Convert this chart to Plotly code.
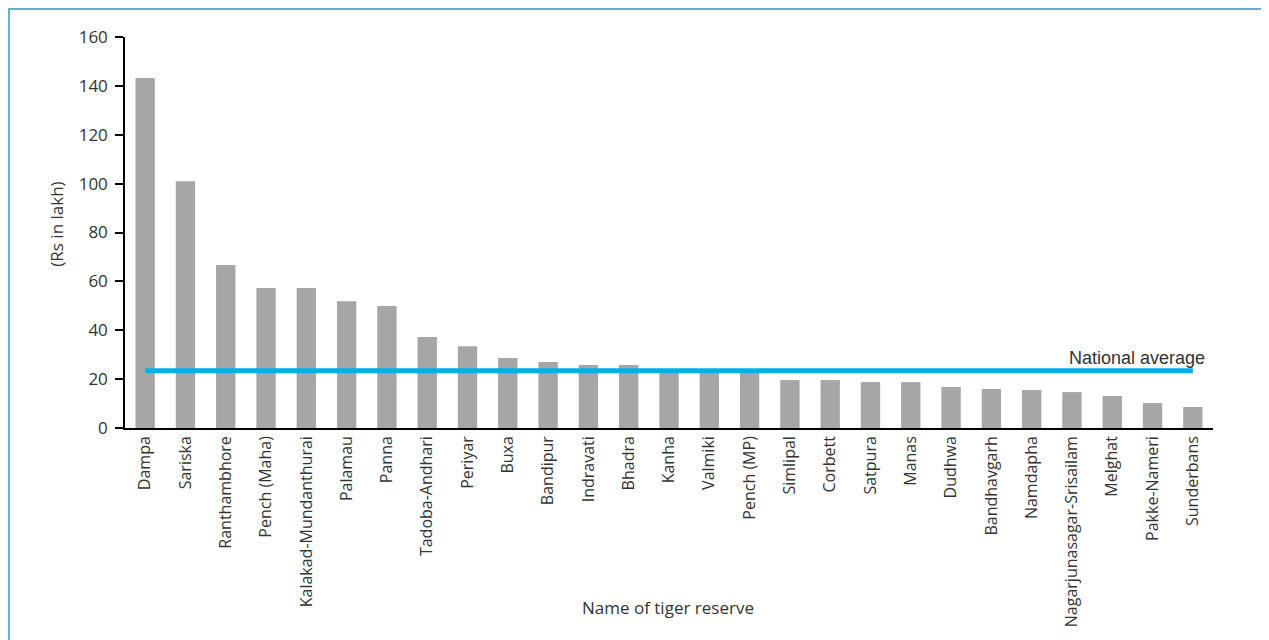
import plotly.graph_objects as go

reserves = [
    "Dampa", "Sariska", "Ranthambhore", "Pench (Maha)", "Kalakad-Mundanthurai",
    "Palamau", "Panna", "Tadoba-Andhari", "Periyar", "Buxa", "Bandipur",
    "Indravati", "Bhadra", "Kanha", "Valmiki", "Pench (MP)", "Simlipal",
    "Corbett", "Satpura", "Manas", "Dudhwa", "Bandhavgarh", "Namdapha",
    "Nagarjunasagar-Srisailam", "Melghat", "Pakke-Nameri", "Sunderbans",
]
cost_rs_lakh = [
    143.2, 101.0, 66.7, 57.3, 57.3, 51.9, 49.9, 37.2, 33.5, 28.6, 27.0,
    25.8, 25.8, 23.6, 23.4, 23.2, 19.6, 19.6, 18.8, 18.8, 16.8, 16.0,
    15.5, 14.7, 13.1, 10.2, 8.6,
]
national_average = 23.4
y_ticks = [0, 20, 40, 60, 80, 100, 120, 140, 160]

TEXT = "#333333"
BAR_GREY = "#a6a6a6"
LINE_BLUE = "#00aeef"
FRAME_BLUE = "#6aaec8"
FONT = "Open Sans, Noto Sans, sans-serif"

fig = go.Figure()
fig.add_bar(x=reserves, y=cost_rs_lakh, marker_color=BAR_GREY, marker_line_width=0, showlegend=False)
fig.add_scatter(
    x=reserves,
    y=[national_average] * len(reserves),
    mode="lines",
    line={"color": LINE_BLUE, "width": 5},
    showlegend=False,
)

fig.add_annotation(
    x=reserves[-1], y=national_average, xref="x", yref="y",
    text="National average", showarrow=False,
    xanchor="right", yanchor="bottom", xshift=14, yshift=1,
    font={"family": "Liberation Sans Narrow, Arial Narrow, sans-serif", "size": 18, "color": TEXT},
)
fig.add_annotation(
    x=-0.0625, y=0.52, xref="paper", yref="paper",
    text="(Rs in lakh)", textangle=-90, showarrow=False,
    xanchor="center", yanchor="middle",
    font={"family": FONT, "size": 17, "color": TEXT},
)
fig.add_annotation(
    x=0.499, y=-0.46, xref="paper", yref="paper",
    text="Name of tiger reserve", showarrow=False,
    xanchor="center", yanchor="middle",
    font={"family": FONT, "size": 17, "color": TEXT},
)

# light blue frame round the whole chart
fig.add_shape(
    type="rect", xref="paper", yref="paper",
    x0=-0.1066, x1=1.0496, y0=-0.575, y1=1.0716,
    line={"color": FRAME_BLUE, "width": 2}, fillcolor="rgba(0,0,0,0)",
    layer="below",
)

fig.update_layout(
    width=1269,
    height=640,
    margin={"l": 117, "r": 64, "t": 29, "b": 220, "autoexpand": False},
    paper_bgcolor="white",
    plot_bgcolor="white",
    bargap=0.52,
    font={"family": FONT, "size": 16, "color": TEXT},
)
fig.update_xaxes(
    type="category",
    showline=True, linecolor="black", linewidth=1.5,
    ticks="", tickangle=-90, showgrid=False, zeroline=False,
    tickfont={"size": 16, "color": TEXT},
)
fig.update_yaxes(
    range=[0, 160], tickvals=y_ticks,
    showline=True, linecolor="black", linewidth=1.5,
    ticks="outside", ticklen=8, tickcolor="black", tickwidth=1.5,
    ticklabelstandoff=4,
    showgrid=False, zeroline=False,
    tickfont={"size": 17, "color": TEXT},
)

fig.write_html("out.html")
